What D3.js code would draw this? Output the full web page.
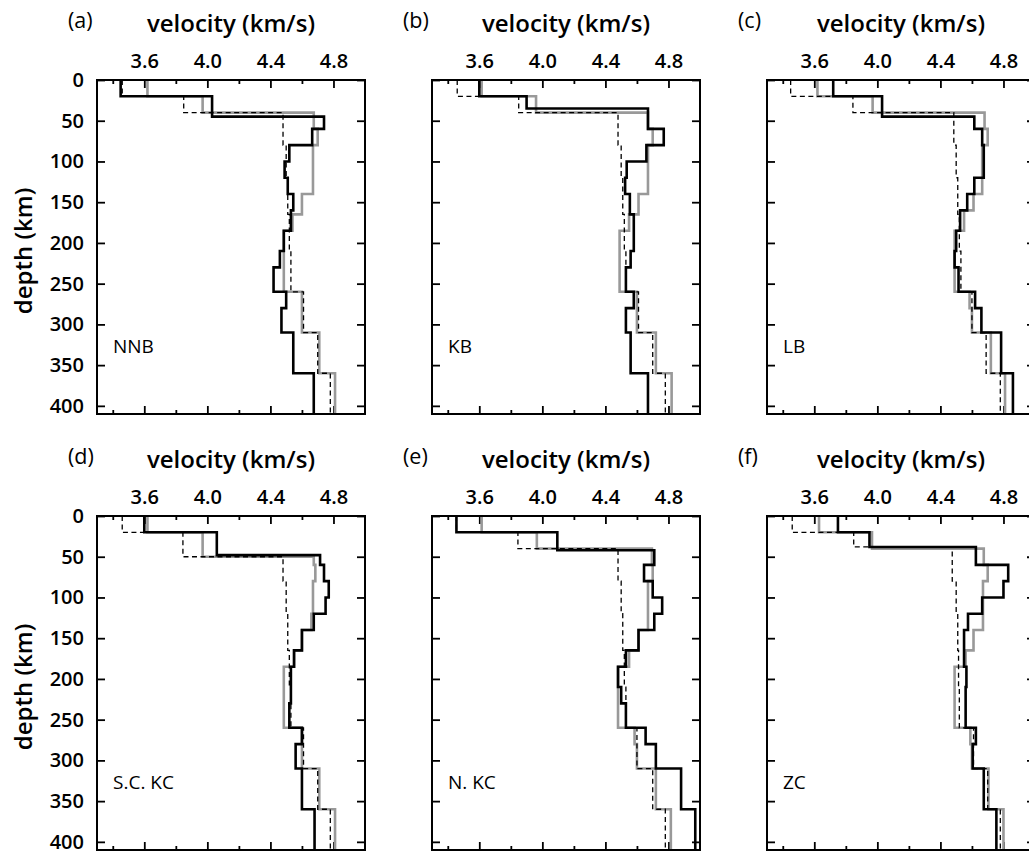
<!DOCTYPE html>
<html lang="en">
<head>
<meta charset="utf-8">
<title>Shear velocity profiles</title>
<script src="https://cdnjs.cloudflare.com/ajax/libs/d3/7.8.5/d3.min.js"></script>
<style>
    body { margin: 0; background: #fff; }
    svg { display: block; font-family: "Open Sans", sans-serif; }
    .tick line { stroke: #000; stroke-width: 1.8; }
    .tick text { font-size: 20px; font-weight: 600; fill: #000; }
</style>
</head>
<body>
<div id="chart"></div>
<script>

// panel tags, region names and axis ticks
var panelTags = ["(a)", "(b)", "(c)", "(d)", "(e)", "(f)"];
var regionNames = ["NNB", "KB", "LB", "S.C. KC", "N. KC", "ZC"];
var velTicks = [3.6, 4.0, 4.4, 4.8];
var velMinor = [3.4, 3.8, 4.2, 4.6];
var depthTicks = [0, 50, 100, 150, 200, 250, 300, 350, 400];
var maxDepth = 410;

// layered models: [top of layer (km), Vs (km/s)], each layer runs to the next top
var nnbBlack = [[0, 3.45], [20, 4.03], [45, 4.74], [60, 4.665], [80, 4.52], [100, 4.49], [120, 4.51], [140, 4.545], [160, 4.53], [185, 4.485], [210, 4.46], [230, 4.42], [260, 4.50], [280, 4.47], [310, 4.545], [360, 4.675]];
var nnbGray = [[0, 3.62], [20, 3.97], [40, 4.675], [60, 4.70], [80, 4.67], [140, 4.60], [165, 4.54], [185, 4.485], [260, 4.60], [310, 4.71], [360, 4.81]];
var nnbRef = [[0, 3.46], [20, 3.85], [40, 4.48], [80, 4.50], [120, 4.51], [165, 4.52], [210, 4.53], [260, 4.61], [310, 4.70], [360, 4.78]];

var kbBlack = [[0, 3.60], [20, 3.90], [35, 4.67], [60, 4.77], [80, 4.66], [100, 4.535], [120, 4.525], [140, 4.555], [165, 4.58], [210, 4.56], [230, 4.53], [260, 4.58], [280, 4.53], [310, 4.56], [360, 4.67]];
var kbGray = [[0, 3.615], [20, 3.96], [40, 4.67], [60, 4.70], [80, 4.67], [140, 4.61], [165, 4.55], [185, 4.49], [260, 4.60], [310, 4.72], [360, 4.82]];
var kbRef = [[0, 3.46], [20, 3.85], [40, 4.48], [80, 4.50], [120, 4.51], [165, 4.52], [210, 4.53], [260, 4.61], [310, 4.70], [360, 4.78]];

var lbBlack = [[0, 3.72], [20, 4.03], [45, 4.615], [60, 4.665], [80, 4.675], [120, 4.615], [140, 4.57], [160, 4.525], [185, 4.50], [210, 4.49], [230, 4.515], [260, 4.62], [280, 4.66], [310, 4.785], [360, 4.86]];
var lbGray = [[0, 3.62], [20, 3.97], [40, 4.68], [60, 4.70], [80, 4.665], [140, 4.61], [160, 4.55], [185, 4.49], [260, 4.585], [280, 4.60], [310, 4.72], [360, 4.81]];
var lbRef = [[0, 3.45], [20, 3.845], [40, 4.485], [80, 4.50], [120, 4.51], [165, 4.52], [210, 4.53], [260, 4.60], [310, 4.69], [360, 4.78]];

var sckcBlack = [[0, 3.60], [20, 4.06], [48, 4.715], [60, 4.74], [80, 4.77], [100, 4.75], [120, 4.675], [140, 4.60], [165, 4.55], [185, 4.53], [230, 4.52], [260, 4.60], [280, 4.56], [310, 4.60], [360, 4.68]];
var sckcGray = [[0, 3.62], [20, 3.97], [50, 4.675], [60, 4.685], [80, 4.67], [120, 4.66], [140, 4.60], [165, 4.55], [185, 4.485], [260, 4.60], [310, 4.71], [360, 4.81]];
var sckcRef = [[0, 3.46], [20, 3.845], [50, 4.48], [80, 4.50], [120, 4.51], [165, 4.52], [210, 4.53], [260, 4.61], [310, 4.70], [360, 4.78]];

var nkcBlack = [[0, 3.455], [20, 4.095], [42, 4.71], [60, 4.645], [80, 4.70], [100, 4.76], [120, 4.71], [140, 4.61], [165, 4.53], [185, 4.48], [210, 4.50], [230, 4.53], [260, 4.655], [280, 4.72], [310, 4.88], [360, 4.97]];
var nkcGray = [[0, 3.615], [20, 3.965], [40, 4.695], [60, 4.70], [80, 4.67], [140, 4.61], [165, 4.55], [185, 4.48], [260, 4.585], [280, 4.60], [310, 4.72], [360, 4.815]];
var nkcRef = [[0, 3.455], [20, 3.845], [40, 4.48], [80, 4.50], [120, 4.51], [165, 4.52], [210, 4.53], [260, 4.60], [310, 4.70], [360, 4.78]];

var zcBlack = [[0, 3.75], [20, 3.95], [38, 4.625], [60, 4.83], [80, 4.80], [100, 4.665], [120, 4.575], [140, 4.55], [185, 4.565], [210, 4.56], [260, 4.625], [280, 4.605], [310, 4.675], [360, 4.755]];
var zcGray = [[0, 3.63], [20, 3.966], [40, 4.675], [60, 4.70], [80, 4.67], [140, 4.61], [165, 4.56], [185, 4.49], [260, 4.59], [280, 4.60], [310, 4.705], [360, 4.80]];
var zcRef = [[0, 3.46], [20, 3.85], [38, 4.475], [80, 4.50], [120, 4.51], [165, 4.515], [210, 4.52], [260, 4.61], [310, 4.70], [360, 4.78]];

var blackModels = [nnbBlack, kbBlack, lbBlack, sckcBlack, nkcBlack, zcBlack];
var grayModels = [nnbGray, kbGray, lbGray, sckcGray, nkcGray, zcGray];
var refModels = [nnbRef, kbRef, lbRef, sckcRef, nkcRef, zcRef];

var W = 1029, H = 854;
var panelW = 268, panelH = 334;
var colX = [97, 432, 767];
var rowY = [80, 516];

var svg = d3.select("#chart").append("svg")
    .attr("width", W)
    .attr("height", H);

var x = d3.scaleLinear().domain([3.3, 5.0]).range([0, panelW]);
var y = d3.scaleLinear().domain([0, maxDepth]).range([0, panelH]);

var line = d3.line()
    .x(function (d) { return x(d[0]); })
    .y(function (d) { return y(d[1]); });

// turn layer list into the corner points of a staircase
function staircase(layers) {
    var pts = [];
    layers.forEach(function (l, i) {
        var bottom = i < layers.length - 1 ? layers[i + 1][0] : maxDepth;
        pts.push([l[1], l[0]], [l[1], bottom]);
    });
    return pts;
}

function cleanAxis(g) {
    g.attr("font-size", null).attr("font-family", null);
    g.select(".domain").remove();
}

panelTags.forEach(function (tag, i) {
    var col = i % 3, row = Math.floor(i / 3);
    var g = svg.append("g")
        .attr("transform", "translate(" + colX[col] + "," + rowY[row] + ")");

    g.append("clipPath").attr("id", "clip" + i)
        .append("rect").attr("width", panelW).attr("height", panelH);

    // ticks, all pointing inward
    g.append("g").call(d3.axisTop(x).tickValues(velMinor).tickSize(-4).tickFormat("")).call(cleanAxis);
    g.append("g").call(d3.axisTop(x).tickValues(velTicks).tickSize(-8).tickPadding(12)
        .tickFormat(d3.format(".1f"))).call(cleanAxis);
    g.append("g").attr("transform", "translate(0," + panelH + ")")
        .call(d3.axisBottom(x).tickValues(velMinor).tickSize(-4).tickFormat("")).call(cleanAxis);
    g.append("g").attr("transform", "translate(0," + panelH + ")")
        .call(d3.axisBottom(x).tickValues(velTicks).tickSize(-8).tickFormat("")).call(cleanAxis);
    g.append("g").call(d3.axisLeft(y).tickValues(depthTicks).tickSize(-8).tickPadding(13)
        .tickFormat(col === 0 ? d3.format("d") : "")).call(cleanAxis);
    g.append("g").attr("transform", "translate(" + panelW + ",0)")
        .call(d3.axisRight(y).tickValues(depthTicks).tickSize(-8).tickFormat("")).call(cleanAxis);

    var lines = g.append("g").attr("clip-path", "url(#clip" + i + ")");

    lines.append("path")
        .attr("d", line(staircase(grayModels[i])))
        .attr("fill", "none")
        .attr("stroke", "#999")
        .attr("stroke-width", 2.6);

    lines.append("path")
        .attr("d", line(staircase(refModels[i])))
        .attr("fill", "none")
        .attr("stroke", "#000")
        .attr("stroke-width", 1.3)
        .attr("stroke-dasharray", "5,3.5");

    lines.append("path")
        .attr("d", line(staircase(blackModels[i])))
        .attr("fill", "none")
        .attr("stroke", "#000")
        .attr("stroke-width", 2.6);

    g.append("rect")
        .attr("width", panelW)
        .attr("height", panelH)
        .attr("fill", "none")
        .attr("stroke", "#000")
        .attr("stroke-width", 2);

    g.append("text")
        .attr("x", -29)
        .attr("y", -52)
        .attr("font-size", 21.5)
        .text(tag);

    g.append("text")
        .attr("x", panelW / 2)
        .attr("y", -48)
        .attr("text-anchor", "middle")
        .attr("font-size", 24)
        .attr("font-weight", 600)
        .text("velocity (km/s)");

    g.append("text")
        .attr("x", 16)
        .attr("y", 273)
        .attr("font-size", 19)
        .text(regionNames[i]);

    if (col === 0) {
        g.append("text")
            .attr("transform", "translate(" + (32 - colX[0]) + "," + (panelH / 2 + 4) + ") rotate(-90)")
            .attr("text-anchor", "middle")
            .attr("font-size", 24)
            .attr("font-weight", 600)
            .text("depth (km)");
    }
});

</script>
</body>
</html>
